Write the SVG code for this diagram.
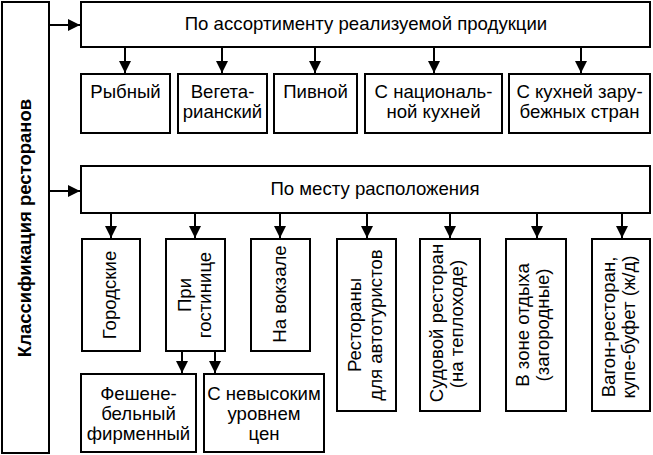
<svg xmlns="http://www.w3.org/2000/svg" width="653" height="455" viewBox="0 0 653 455">
<style>
rect{fill:#fff;stroke:#000;stroke-width:2}
.c line{stroke:#000;stroke-width:2}
text{font-family:"Liberation Sans",Arial,sans-serif;font-size:18.6px;text-anchor:middle;fill:#000}
.b{font-weight:bold;font-size:18.5px}
</style>
<defs>
<marker id="ah" markerUnits="userSpaceOnUse" markerWidth="12" markerHeight="12" refX="12" refY="6" orient="auto">
<path d="M0,0 L12,6 L0,12 z" fill="#000"/>
</marker>
</defs>
<rect x="0" y="0" width="653" height="455" style="stroke:none"/>
<g class="c">
<line x1="49" y1="25" x2="80" y2="25" marker-end="url(#ah)"/>
<line x1="49" y1="191" x2="80" y2="191" marker-end="url(#ah)"/>
<line x1="125" y1="47" x2="125" y2="73" marker-end="url(#ah)"/>
<line x1="222" y1="47" x2="222" y2="73" marker-end="url(#ah)"/>
<line x1="315" y1="47" x2="315" y2="73" marker-end="url(#ah)"/>
<line x1="434" y1="47" x2="434" y2="73" marker-end="url(#ah)"/>
<line x1="581" y1="47" x2="581" y2="73" marker-end="url(#ah)"/>
<line x1="111" y1="213" x2="111" y2="238" marker-end="url(#ah)"/>
<line x1="195" y1="213" x2="195" y2="238" marker-end="url(#ah)"/>
<line x1="280" y1="213" x2="280" y2="238" marker-end="url(#ah)"/>
<line x1="367" y1="213" x2="367" y2="238" marker-end="url(#ah)"/>
<line x1="450" y1="213" x2="450" y2="238" marker-end="url(#ah)"/>
<line x1="537" y1="213" x2="537" y2="238" marker-end="url(#ah)"/>
<line x1="622" y1="213" x2="622" y2="238" marker-end="url(#ah)"/>
<line x1="182" y1="351" x2="182" y2="373" marker-end="url(#ah)"/>
<line x1="215" y1="351" x2="215" y2="373" marker-end="url(#ah)"/>
</g>
<g id="root">
<rect x="2" y="2" width="47" height="451"/>
<text class="b" transform="translate(31,228) rotate(-90)">Классификация ресторанов</text>
</g>
<g id="assort">
<rect x="81" y="2" width="569" height="45"/>
<text x="366" y="30">По ассортименту реализуемой продукции</text>
</g>
<g id="fish">
<rect x="81" y="74" width="89" height="59"/>
<text x="125.5" y="98">Рыбный</text>
</g>
<g id="veg">
<rect x="178" y="74" width="89" height="59"/>
<text x="222.5" y="98">Вегета-</text>
<text x="222.5" y="118">рианский</text>
</g>
<g id="beer">
<rect x="274" y="74" width="83" height="59"/>
<text x="315.5" y="98">Пивной</text>
</g>
<g id="national">
<rect x="365" y="74" width="137" height="59"/>
<text x="433.5" y="98">С националь-</text>
<text x="433.5" y="118">ной кухней</text>
</g>
<g id="foreign">
<rect x="509" y="74" width="141" height="59"/>
<text x="579.5" y="98">С кухней зару-</text>
<text x="579.5" y="118">бежных стран</text>
</g>
<g id="location">
<rect x="81" y="166" width="569" height="47"/>
<text x="375" y="195">По месту расположения</text>
</g>
<g id="city">
<rect x="82" y="239" width="58" height="112"/>
<text transform="translate(116,295) rotate(-90)">Городские</text>
</g>
<g id="hotel">
<rect x="166" y="239" width="59" height="112"/>
<text transform="translate(191,295) rotate(-90)">При</text>
<text transform="translate(211,295) rotate(-90)">гостинице</text>
</g>
<g id="station">
<rect x="251" y="239" width="59" height="112"/>
<text transform="translate(286,294) rotate(-90)">На вокзале</text>
</g>
<g id="auto">
<rect x="337" y="239" width="59" height="172"/>
<text transform="translate(361,325) rotate(-90)">Рестораны</text>
<text transform="translate(382,325) rotate(-90)">для автотуристов</text>
</g>
<g id="ship">
<rect x="420" y="239" width="60" height="172"/>
<text transform="translate(443,323) rotate(-90)">Судовой ресторан</text>
<text transform="translate(463,324) rotate(-90)">(на теплоходе)</text>
</g>
<g id="rest">
<rect x="506" y="239" width="60" height="172"/>
<text transform="translate(529,325) rotate(-90)">В зоне отдыха</text>
<text transform="translate(549,325) rotate(-90)">(загородные)</text>
</g>
<g id="train">
<rect x="592" y="239" width="58" height="172"/>
<text transform="translate(615,327) rotate(-90)">Вагон-ресторан,</text>
<text transform="translate(635,327) rotate(-90)">купе-буфет (ж/д)</text>
</g>
<g id="fashion">
<rect x="81" y="374" width="115" height="78"/>
<text x="138.5" y="400">Фешене-</text>
<text x="138.5" y="420">бельный</text>
<text x="138.5" y="440">фирменный</text>
</g>
<g id="cheap">
<rect x="204" y="374" width="120" height="78"/>
<text x="264" y="400">С невысоким</text>
<text x="264" y="420">уровнем</text>
<text x="264" y="440">цен</text>
</g>
</svg>
